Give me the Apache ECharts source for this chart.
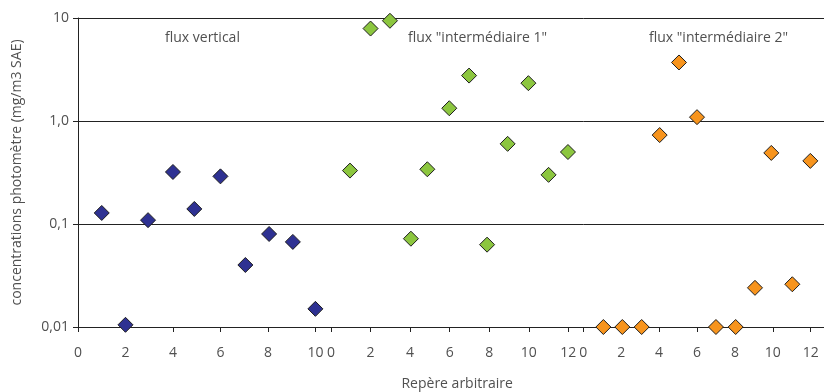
<!DOCTYPE html>
<html>
<head>
<meta charset="utf-8">
<script src="https://cdn.jsdelivr.net/npm/echarts@6/dist/echarts.min.js"></script>
<style>
  html, body { margin: 0; padding: 0; background: #fff; }
  #chart { width: 824px; height: 392px; }
</style>
</head>
<body>
<div id="chart"></div>
<script>
// Three measurement runs, each on its own arbitrary position scale
const verticalX = [1, 2, 2.95, 4, 4.9, 6, 7.05, 8.05, 9.05, 10];
const verticalY = [0.128, 0.0105, 0.109, 0.32, 0.14, 0.29, 0.04, 0.08, 0.067, 0.015];

const inter1X = [0.96, 2, 2.98, 4.04, 4.87, 5.98, 6.98, 7.89, 8.93, 9.98, 11, 11.98];
const inter1Y = [0.33, 7.9, 9.4, 0.072, 0.34, 1.33, 2.76, 0.063, 0.6, 2.33, 0.3, 0.5];

const inter2X = [1.06, 2.06, 3.08, 4.03, 5.05, 6.0, 7.0, 8.04, 9.06, 9.92, 11.03, 11.98];
const inter2Y = [0.01, 0.01, 0.01, 0.73, 3.7, 1.09, 0.01, 0.01, 0.024, 0.49, 0.026, 0.41];

// Axis ticks
const xTicksVertical = [0, 2, 4, 6, 8, 10];
const xTicksInter = [0, 2, 4, 6, 8, 10, 12];
const yTicks = [0.01, 0.1, 1, 10];
const yTickLabels = ['0,01', '0,1', '1,0', '10'];

const groupTitles = ['flux vertical', 'flux "intermédiaire 1"', 'flux "intermédiaire 2"'];
const yTitle = 'concentrations photomètre (mg/m3 SAE)';
const xTitle = 'Repère arbitraire';

const FONT = 'Open Sans';
const TEXT = '#505050';
const LINE = '#222';

const chart = echarts.init(document.getElementById('chart'), null, { renderer: 'canvas' });

const pairs = (xs, ys) => xs.map((x, i) => [x, ys[i]]);

// Grid geometry: three panels sharing one horizontal band
const panels = [
  { left: 78, width: 253, max: 253 / 23.74, ticks: xTicksVertical },
  { left: 331, width: 252.3, max: 252.3 / 19.78, ticks: xTicksInter },
  { left: 583.3, width: 240.7, max: 240.7 / 18.95, ticks: xTicksInter }
];

const grids = panels.map(p => ({
  left: p.left, width: p.width, top: 18, bottom: 65,
  containLabel: false, outerBoundsMode: 'none'
}));

const xAxes = panels.map((p, i) => ({
  type: 'value',
  gridIndex: i,
  min: 0,
  max: p.max,
  axisLine: { show: true, onZero: false, lineStyle: { color: LINE, width: 1 } },
  axisTick: { show: true, length: 5, customValues: p.ticks, lineStyle: { color: LINE } },
  axisLabel: { show: true, customValues: p.ticks, margin: 19, color: TEXT, fontFamily: FONT, fontSize: 14 },
  splitLine: { show: false },
  name: i === 1 ? xTitle : '',
  nameLocation: 'middle',
  nameGap: 50,
  nameTextStyle: { color: TEXT, fontFamily: FONT, fontSize: 14 }
}));

const yAxes = panels.map((p, i) => ({
  type: 'log',
  logBase: 10,
  gridIndex: i,
  min: 0.01,
  max: 10,
  axisLine: { show: i === 0, lineStyle: { color: LINE, width: 1 } },
  axisTick: { show: i === 0, length: 5, lineStyle: { color: LINE } },
  axisLabel: {
    show: i === 0,
    margin: 9,
    color: TEXT,
    fontFamily: FONT,
    fontSize: 14,
    formatter: v => {
      const k = yTicks.findIndex(t => Math.abs(t - v) / t < 1e-6);
      return k >= 0 ? yTickLabels[k] : '';
    }
  },
  splitLine: { show: true, lineStyle: { color: LINE, width: 1 } },
  name: i === 0 ? yTitle : '',
  nameLocation: 'middle',
  nameGap: 54,
  nameRotate: 90,
  nameTextStyle: { color: TEXT, fontFamily: FONT, fontSize: 14 }
}));

const seriesStyle = (color) => ({
  type: 'scatter',
  symbol: 'diamond',
  symbolSize: 15,
  clip: false,
  itemStyle: { color: color, borderColor: '#1e1e1e', borderWidth: 1, opacity: 1 },
  emphasis: { disabled: true }
});

const option = {
  backgroundColor: '#fff',
  animation: false,
  grid: grids,
  xAxis: xAxes,
  yAxis: yAxes,
  graphic: [
    { type: 'text', left: 165, top: 31, style: { text: groupTitles[0], fill: TEXT, font: '14px "' + FONT + '"' } },
    { type: 'text', left: 408, top: 31, style: { text: groupTitles[1], fill: TEXT, font: '14px "' + FONT + '"' } },
    { type: 'text', left: 649, top: 31, style: { text: groupTitles[2], fill: TEXT, font: '14px "' + FONT + '"' } }
  ],
  series: [
    Object.assign(seriesStyle('#2e3192'), { name: groupTitles[0], xAxisIndex: 0, yAxisIndex: 0, data: pairs(verticalX, verticalY) }),
    Object.assign(seriesStyle('#8cc63f'), { name: groupTitles[1], xAxisIndex: 1, yAxisIndex: 1, data: pairs(inter1X, inter1Y) }),
    Object.assign(seriesStyle('#f7941d'), { name: groupTitles[2], xAxisIndex: 2, yAxisIndex: 2, data: pairs(inter2X, inter2Y) })
  ]
};

chart.setOption(option);
</script>
</body>
</html>
